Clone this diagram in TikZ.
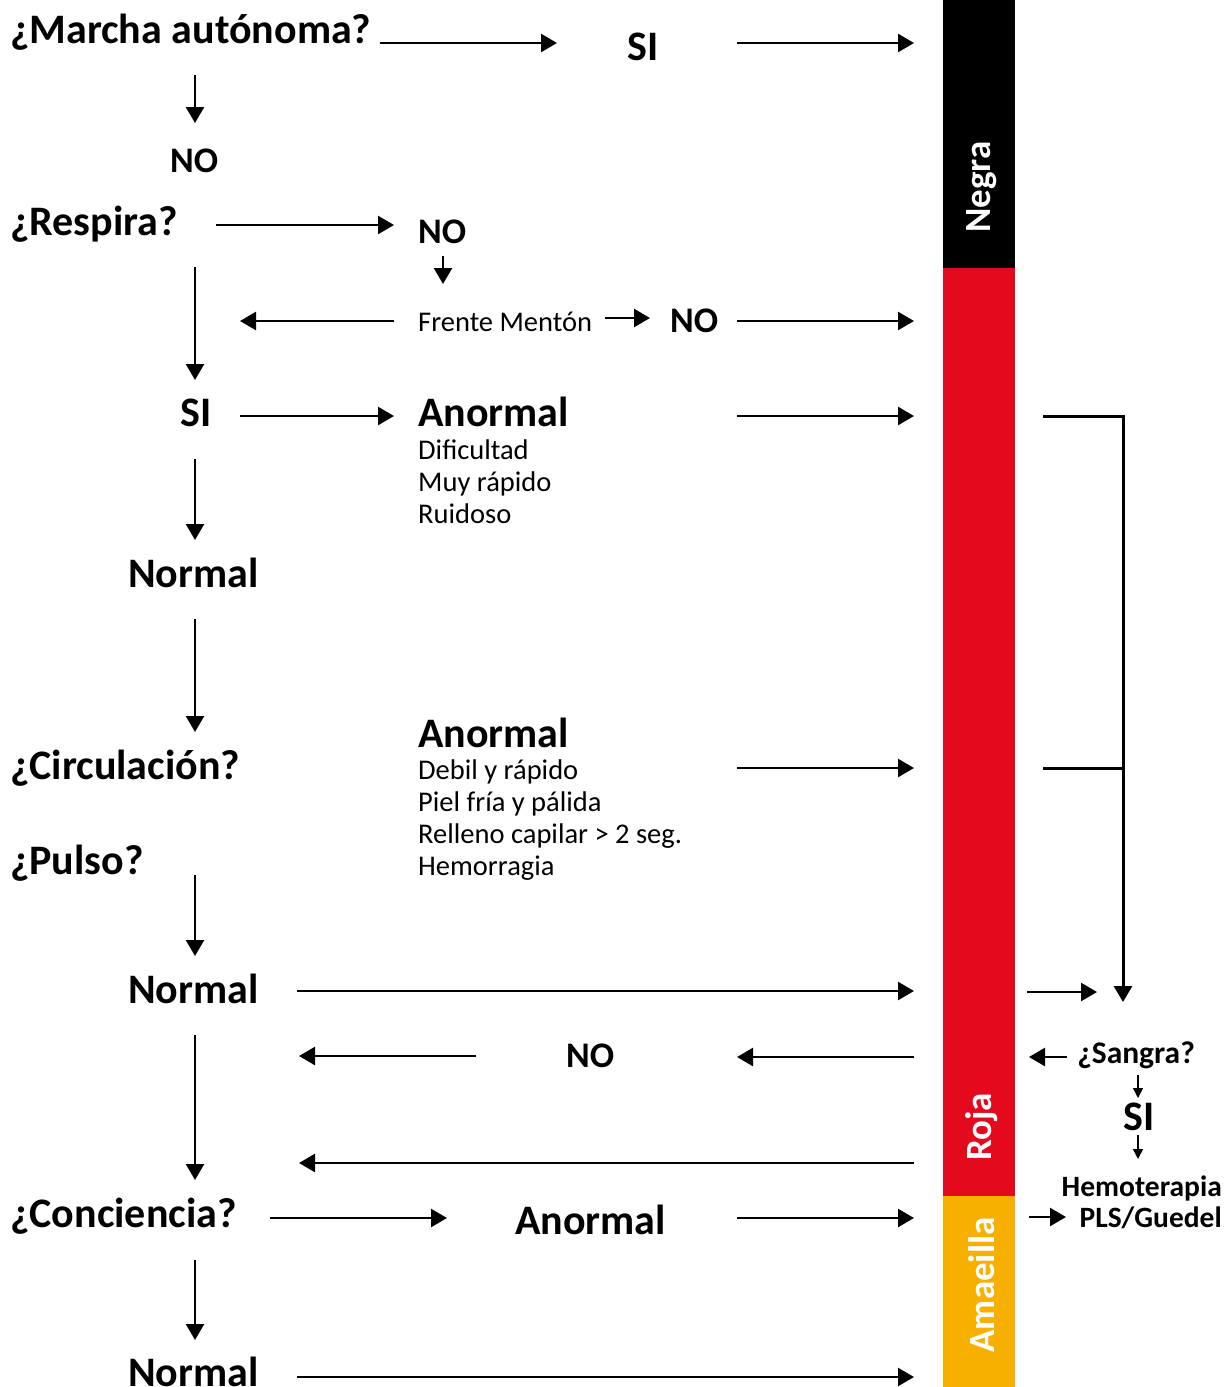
\documentclass[tikz,border=0pt]{standalone}
\usepackage{fontspec}
\setmainfont{Carlito}
\usetikzlibrary{arrows.meta}
\definecolor{rojo}{HTML}{E30A1D}
\definecolor{amarillo}{HTML}{F8B000}
\begin{document}
\begin{tikzpicture}[x=1pt,y=-1pt,
  q/.style={anchor=base west, inner sep=0pt, font=\fontsize{42}{50}\selectfont\bfseries},
  nolbl/.style={anchor=base west, inner sep=0pt, font=\fontsize{36}{44}\selectfont\bfseries},
  txt/.style={anchor=base west, inner sep=0pt, font=\fontsize{28.5}{34}\selectfont},
  sm/.style={anchor=base east, inner sep=0pt, font=\fontsize{30}{36}\selectfont\bfseries},
  barlbl/.style={inner sep=0pt, rotate=90, text=white, font=\fontsize{37}{40}\selectfont\bfseries},
  arr/.style={line width=2.5pt, -{Triangle[length=16pt,width=18pt]}},
  sarr/.style={line width=1.5pt, -{Triangle[length=10pt,width=10pt]}},
  ln/.style={line width=3pt}]
\useasboundingbox (0,0) rectangle (1226,1387);
% colour bar
\fill[black] (943,0) rectangle (1015,268);
\fill[rojo] (943,268) rectangle (1015,1196);
\fill[amarillo] (943,1196) rectangle (1015,1387);
\node[barlbl] (negra) at (982,187) {Negra};
\node[barlbl] (roja) at (982,1127) {Roja};
\node[barlbl] (amarilla) at (982,1285) {Amaeilla};
% left column texts
\node[q] (marcha) at (10,43) {¿Marcha autónoma?};
\node[q] (si1) at (627,60) {SI};
\node[nolbl] (no1) at (170,172) {NO};
\node[q] (respira) at (10,235) {¿Respira?};
\node[nolbl] (no2) at (418,243) {NO};
\node[txt] (frente) at (418,331) {Frente Mentón};
\node[nolbl] (no3) at (670,332) {NO};
\node[q] (si2) at (180,426) {SI};
\node[q] (anormal1) at (418,426) {Anormal};
\node[txt] (dif) at (418,459) {Dificultad};
\node[txt] (muy) at (418,491) {Muy rápido};
\node[txt] (ruid) at (418,523) {Ruidoso};
\node[q] (normal1) at (128,587) {Normal};
\node[q] (circ) at (10,779) {¿Circulación?};
\node[q] (anormal2) at (418,747) {Anormal};
\node[txt] (debil) at (418,779) {Debil y rápido};
\node[txt] (piel) at (418,811) {Piel fría y pálida};
\node[txt] (relleno) at (418,843) {Relleno capilar > 2 seg.};
\node[txt] (hemo) at (418,875) {Hemorragia};
\node[q] (pulso) at (10,874) {¿Pulso?};
\node[q] (normal2) at (128,1003) {Normal};
\node[nolbl] (no4) at (566,1067) {NO};
\node[q] (conc) at (10,1227) {¿Conciencia?};
\node[q] (anormal3) at (515,1234) {Anormal};
\node[q] (normal3) at (128,1386) {Normal};
% right texts
\node[sm, font=\fontsize{31.5}{36}\selectfont\bfseries] (sangra) at (1195,1063) {¿Sangra?};
\node[q, anchor=base] (si3) at (1139,1130) {SI};
\node[sm, font=\fontsize{29.5}{36}\selectfont\bfseries] (hemot) at (1222,1196) {Hemoterapia};
\node[sm, font=\fontsize{29.5}{36}\selectfont\bfseries] (pls) at (1222,1227) {PLS/Guedel};
% arrows
\foreach \n/\xa/\ya/\xb/\yb in {
  a1/380/43/557/43, a2/737/43/914/43, a3/195/75/195/123,
  a4/216/225/394/225, a5/443/256/443/284, a6/394/321/240/321,
  a7/605/318/650/318, a8/737/321/914/321, a9/195/267/195/380,
  a10/240/416/394/416, a11/737/416/914/416, a12/195/459/195/540,
  a13/195/619/195/732, a14/737/768/914/768, a15/195/875/195/956,
  a16/297/991/914/991, a17/195/1035/195/1180, a18/476/1056/299/1056,
  a19/914/1057/737/1057, a20/914/1163/299/1163, a21/270/1218/447/1218,
  a22/737/1218/914/1218, a23/195/1260/195/1340, a24/297/1377/914/1377,
  b2/1027/992/1097/992, b3/1067/1057/1029/1057, b6/1029/1217/1066/1217}
{
  \coordinate (\n s) at (\xa,\ya);
  \coordinate (\n e) at (\xb,\yb);
  \draw[arr] (\n s) -- (\n e);
}
\foreach \n/\xa/\ya/\xb/\yb in {b4/1138/1075/1138/1098, b5/1138/1135/1138/1159}
{
  \coordinate (\n s) at (\xa,\ya);
  \coordinate (\n e) at (\xb,\yb);
  \draw[sarr] (\n s) -- (\n e);
}
% bracket on right
\coordinate (br1) at (1043,416);
\coordinate (br2) at (1123,1002);
\coordinate (br3) at (1043,768);
\draw[ln, -{Triangle[length=16pt,width=18pt]}] (br1) -| (br2);
\draw[ln] (br3) -- (br3 -| br2);
\end{tikzpicture}
\end{document}
